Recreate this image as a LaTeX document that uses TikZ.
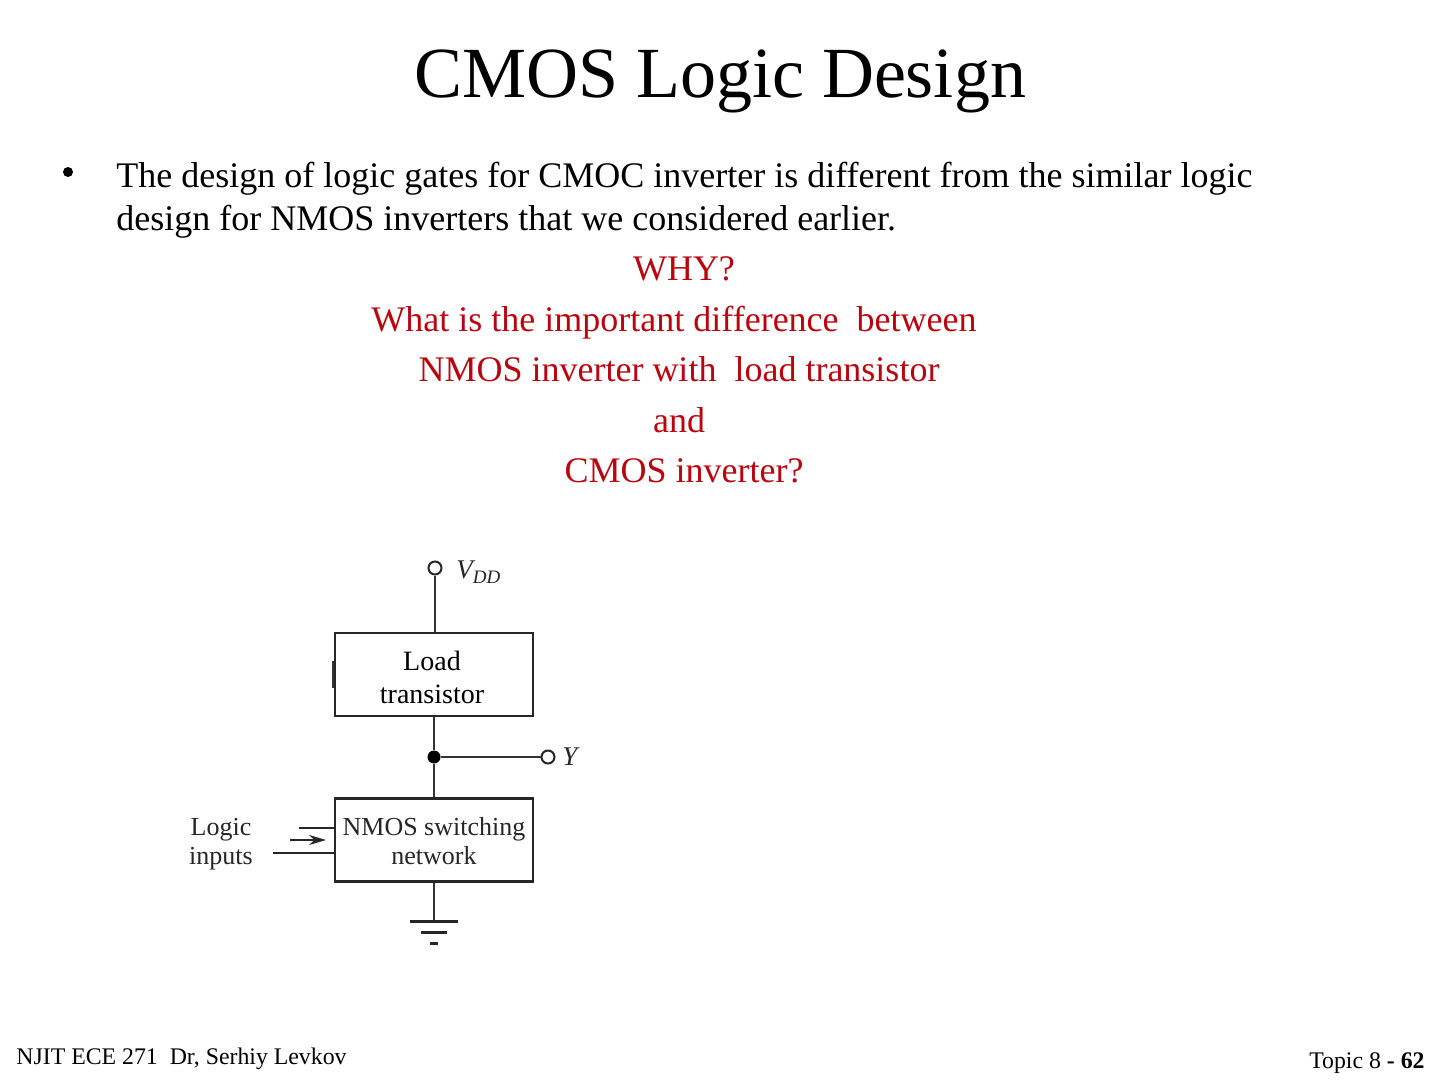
\documentclass[tikz,border=0pt]{standalone}
\usepackage{fontspec}
\setmainfont{Liberation Serif}
\usetikzlibrary{arrows.meta}
\definecolor{slidered}{RGB}{185,5,15}
\tikzset{
  bodytext/.style={anchor=base west,inner sep=0pt,font=\fontsize{18}{20}\selectfont},
  asktext/.style={anchor=base,inner sep=0pt,text=slidered,font=\fontsize{18}{20}\selectfont},
  footer/.style={anchor=base,inner sep=0pt,font=\fontsize{11.9}{14}\selectfont},
  blockbox/.style={draw=black!85,line width=1.1pt,minimum width=99pt,minimum height=41.5pt,inner sep=0pt,align=center},
  pin/.style={circle,draw=black!85,fill=white,line width=1pt,minimum size=6.5pt,inner sep=0pt},
  wire/.style={draw=black!80,line width=1.1pt},
  partlabel/.style={inner sep=0pt,font=\fontsize{13}{14.5}\selectfont,align=center,text=black!85}
}
\begin{document}
\begin{tikzpicture}[x=0.5pt,y=-0.5pt,>=Stealth]
  \useasboundingbox (0,0) rectangle (1440,1080);

  % Title and bullet text.
  \node[anchor=base,inner sep=0pt,font=\fontsize{36}{40}\selectfont] (title) at (720,98) {CMOS Logic Design};
  \fill (68,172) circle[radius=5];
  \node[bodytext] (lineA) at (116,188) {The design of logic gates for CMOC inverter is different from the similar logic};
  \node[bodytext] (lineB) at (116,231) {design for NMOS inverters that we considered earlier.};

  % The question in red.
  \node[asktext] (why) at (684,281) {WHY?};
  \node[asktext] (askA) at (674,332) {What is the important difference\ \ between};
  \node[asktext] (askB) at (679,382) {NMOS inverter with\ \ load transistor};
  \node[asktext] (askC) at (679,432) {and};
  \node[asktext] (askD) at (684,482) {CMOS inverter?};

  % Blocks of the circuit.
  \node[blockbox] (load) at (434,674.5) {};
  \node[inner sep=0pt,align=center,font=\fontsize{14}{16.5}\selectfont] (loadtext) at (432,677) {Load\\transistor};
  \node[blockbox] (nmos) at (434,840) {};
  \node[partlabel] (nmostext) at (434,841) {NMOS switching\\network};
  \draw[black!80,line width=0.8pt] (333,661) -- (333,688);

  % Supply, output and ground.
  \node[pin] (vdd) at (435,568) {};
  \node[pin] (ypin) at (548,757) {};
  \node[circle,fill=black,minimum size=6.5pt,inner sep=0pt] (junction) at (434,757) {};
  \coordinate (gnd) at (434,921);
  \draw[wire] (vdd) -- (load.north -| vdd);
  \draw[wire] (load.south) -- (junction);
  \draw[wire] (junction) -- (nmos.north);
  \draw[wire] (junction) -- (ypin);
  \draw[wire] (nmos.south) -- (gnd);
  \draw[black!85,line width=1.5pt] (410,921) -- (458,921);
  \draw[black!85,line width=1.5pt] (421,932) -- (447,932);
  \draw[black!85,line width=1.5pt] (430,943) -- (438,943);
  \node[anchor=base west,inner sep=0pt,font=\itshape\fontsize{13.5}{14}\selectfont,text=black!85] (vddlabel) at (456,578) {V\raisebox{-2.5pt}{\fontsize{9.5}{12}\selectfont DD}};
  \node[anchor=base west,inner sep=0pt,font=\itshape\fontsize{13.5}{14}\selectfont,text=black!85] (ylabel) at (562,765) {Y};

  % Logic inputs.
  \node[partlabel] (inputs) at (221,844) {Logic\\inputs};
  \coordinate (inA) at (299,828);
  \coordinate (inB) at (273,853);
  \coordinate (arrowfrom) at (290,840);
  \coordinate (arrowto) at (326,840);
  \draw[black!85,line width=0.6pt] (inA) -- (inA -| nmos.west);
  \draw[black!85,line width=0.8pt] (inB) -- (inB -| nmos.west);
  \draw[-{Stealth[length=8.5pt,width=5pt]},black!85,line width=0.9pt] (arrowfrom) -- (arrowto);

  % Footer.
  \node[footer,anchor=base west] (footleft) at (16,1064) {NJIT ECE 271\ \ Dr, Serhiy Levkov};
  \node[footer,anchor=base east] (footright) at (1425,1068) {Topic 8 \textbf{- 62}};
\end{tikzpicture}
\end{document}
